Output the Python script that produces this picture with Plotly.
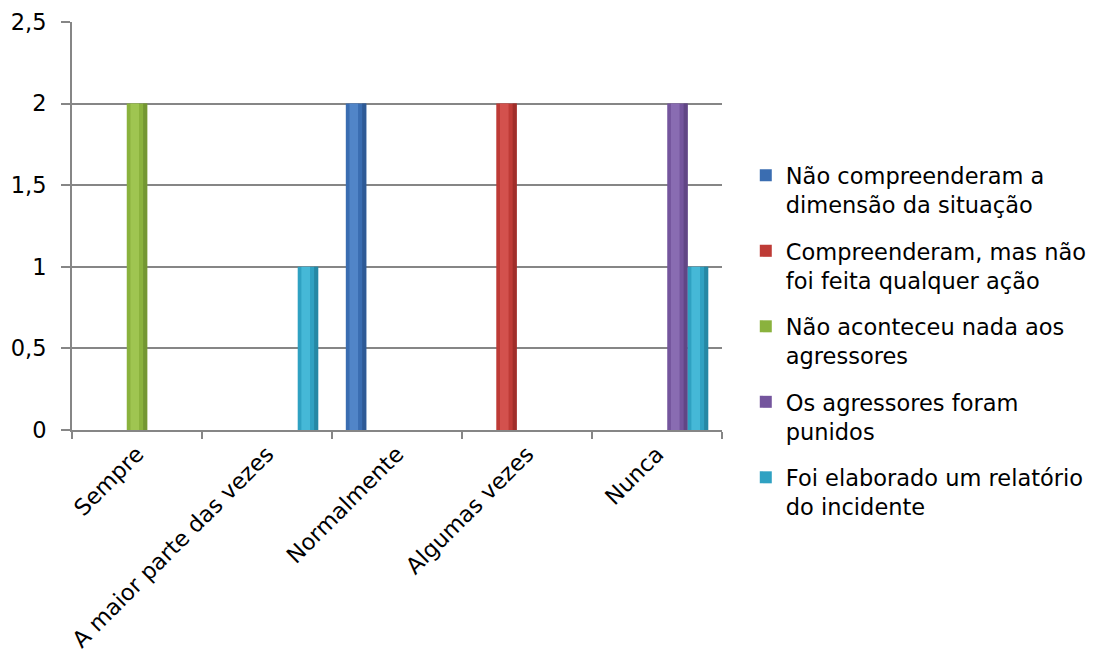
import plotly.graph_objects as go

# Response categories (x axis)
categories = ["Sempre", "A maior parte das vezes", "Normalmente", "Algumas vezes", "Nunca"]

# One list of counts per outcome series
nao_compreenderam = [0, 0, 2, 0, 0]
compreenderam_sem_acao = [0, 0, 0, 2, 0]
nada_aos_agressores = [2, 0, 0, 0, 0]
agressores_punidos = [0, 0, 0, 0, 2]
relatorio_incidente = [0, 1, 0, 0, 1]

series_names = [
    "Não compreenderam a<br>dimensão da situação",
    "Compreenderam, mas não<br>foi feita qualquer ação",
    "Não aconteceu nada aos<br>agressores",
    "Os agressores foram<br>punidos",
    "Foi elaborado um relatório<br>do incidente",
]
series_values = [
    nao_compreenderam,
    compreenderam_sem_acao,
    nada_aos_agressores,
    agressores_punidos,
    relatorio_incidente,
]

# base, highlight and shade tone for each series
base_colors = ["#3A6DB1", "#BE3B36", "#8AB23D", "#74559D", "#2FA1C2"]
light_colors = ["#5A8DD0", "#DA5A55", "#A6CB58", "#9074BA", "#4EC0DE"]
dark_colors = ["#2C5590", "#992C28", "#6E9030", "#5C4280", "#23829E"]

y_ticks = [0, 0.5, 1, 1.5, 2, 2.5]
y_tick_text = ["0", "0,5", "1", "1,5", "2", "2,5"]

slot = 0.1575  # width of one bar slot, in category units
n = len(series_values)

fig = go.Figure()
for i, (name, vals) in enumerate(zip(series_names, series_values)):
    y = [v if v else None for v in vals]
    left = (i - n / 2) * slot
    fig.add_trace(go.Bar(
        x=categories, y=y, name=name, legendgroup=f"g{i}",
        width=slot, offset=left,
        marker=dict(color=base_colors[i], line=dict(width=0)),
    ))
    # cylindrical shading: bright core and darker right edge
    fig.add_trace(go.Bar(
        x=categories, y=y, showlegend=False, legendgroup=f"g{i}", hoverinfo="skip",
        width=slot * 0.42, offset=left + slot * 0.18,
        marker=dict(color=light_colors[i], line=dict(width=0), opacity=0.75),
    ))
    fig.add_trace(go.Bar(
        x=categories, y=y, showlegend=False, legendgroup=f"g{i}", hoverinfo="skip",
        width=slot * 0.2, offset=left + slot * 0.8,
        marker=dict(color=dark_colors[i], line=dict(width=0), opacity=0.8),
    ))

axis_gray = "#868686"
font_family = "DejaVu Sans, Verdana, sans-serif"
fs = 22.5

fig.update_layout(
    width=1103, height=661,
    barmode="overlay",
    paper_bgcolor="white", plot_bgcolor="white",
    margin=dict(l=72, r=380, t=22, b=231),
    font=dict(family=font_family, size=fs, color="black"),
    showlegend=True,
    legend=dict(
        x=1.035, y=0.676, xanchor="left", yanchor="top",
        font=dict(size=fs), valign="top",
        tracegroupgap=14, itemsizing="constant",
        bgcolor="rgba(0,0,0,0)",
    ),
    xaxis=dict(
        type="category", categoryorder="array", categoryarray=categories,
        range=[-0.5, 4.5], automargin=False,
        tickangle=-45, tickson="boundaries",
        ticks="outside", ticklen=7, tickcolor=axis_gray, tickwidth=2,
        showline=True, linecolor=axis_gray, linewidth=2,
        showgrid=False, tickfont=dict(size=fs),
    ),
    yaxis=dict(
        range=[0, 2.5], tickvals=y_ticks, ticktext=y_tick_text, automargin=False,
        ticks="outside", ticklen=9, tickcolor=axis_gray, tickwidth=2,
        showline=True, linecolor=axis_gray, linewidth=2,
        showgrid=True, gridcolor=axis_gray, gridwidth=1.5,
        zeroline=False, tickfont=dict(size=fs), ticklabelstandoff=10,
    ),
)

fig.write_html("out.html")
